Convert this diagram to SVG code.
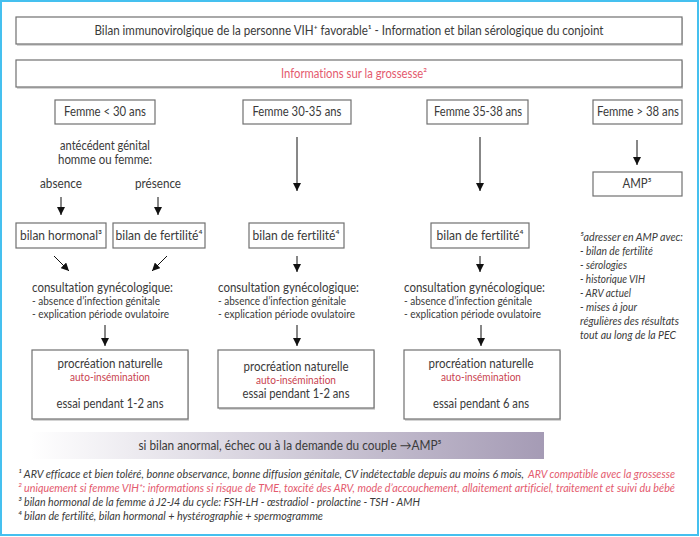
<svg xmlns="http://www.w3.org/2000/svg" width="700" height="537" viewBox="0 0 700 537">
<style>
text{font-family:Lato,"Open Sans","Liberation Sans",sans-serif;fill:#3a3a3a;font-size:12.5px;font-variant-ligatures:none}
.c{text-anchor:middle}
.s{font-size:11px}
.i{font-style:italic;font-size:11px}
.pink{fill:#e45a6e}
.red{fill:#c9434f}
.box{fill:#fff;stroke:#707070;stroke-width:1.2}
.sh{fill:#d4d4d4}
.con{stroke:#111;stroke-width:1;fill:none;marker-end:url(#ah)}
</style>
<defs>
<marker id="ah" markerUnits="userSpaceOnUse" markerWidth="8" markerHeight="8" refX="8" refY="4" orient="auto">
<path d="M0,0 L8,4 L0,8 z" fill="#111"/>
</marker>
<linearGradient id="g" x1="0" x2="1" y1="0" y2="0">
<stop offset="0" stop-color="#ffffff"/>
<stop offset="1" stop-color="#a59bb5"/>
</linearGradient>
</defs>
<rect x="1" y="1" width="697" height="534" fill="#fff" stroke="#45c0ef" stroke-width="2"/>

<g id="title">
<rect class="sh" x="17" y="18" width="666" height="28"/>
<rect class="box" x="16" y="17" width="666" height="27"/>
<text class="c" x="349" y="35" textLength="509" lengthAdjust="spacingAndGlyphs">Bilan immunovirolgique de la personne VIH⁺ favorable¹ - Information et bilan sérologique du conjoint</text>
</g>
<g id="info">
<rect class="sh" x="17" y="61" width="666" height="28"/>
<rect class="box" x="16" y="60" width="666" height="27"/>
<text class="c pink" x="354" y="78" textLength="146" lengthAdjust="spacingAndGlyphs">Informations sur la grossesse²</text>
</g>

<g id="femme30">
<rect class="box" x="55" y="100" width="100" height="24"/>
<text class="c" x="105" y="116" textLength="82" lengthAdjust="spacingAndGlyphs">Femme &lt; 30 ans</text>
</g>
<g id="femme3035">
<rect class="box" x="243" y="100" width="108" height="24"/>
<text class="c" x="297" y="116" textLength="89" lengthAdjust="spacingAndGlyphs">Femme 30-35 ans</text>
</g>
<g id="femme3538">
<rect class="box" x="427" y="100" width="101" height="24"/>
<text class="c" x="478" y="116" textLength="88" lengthAdjust="spacingAndGlyphs">Femme 35-38 ans</text>
</g>
<g id="femme38">
<rect class="box" x="593" y="100" width="89" height="24"/>
<text class="c" x="638" y="116" textLength="82" lengthAdjust="spacingAndGlyphs">Femme &gt; 38 ans</text>
</g>

<g id="antecedent">
<text class="c" x="105" y="150" textLength="90" lengthAdjust="spacingAndGlyphs">antécédent génital</text>
<text class="c" x="105" y="164" textLength="94" lengthAdjust="spacingAndGlyphs">homme ou femme:</text>
</g>
<g id="absence"><text class="c" x="61" y="188" textLength="42" lengthAdjust="spacingAndGlyphs">absence</text></g>
<g id="presence"><text class="c" x="158" y="188" textLength="46" lengthAdjust="spacingAndGlyphs">présence</text></g>

<g id="hormonal">
<rect class="box" x="16" y="223" width="90" height="25"/>
<text class="c" x="61" y="240" textLength="82" lengthAdjust="spacingAndGlyphs">bilan hormonal³</text>
</g>
<g id="fert1">
<rect class="box" x="113" y="223" width="92" height="25"/>
<text class="c" x="159" y="240" textLength="87" lengthAdjust="spacingAndGlyphs">bilan de fertilité⁴</text>
</g>
<g id="fert2">
<rect class="box" x="249" y="223" width="95" height="25"/>
<text class="c" x="296" y="240" textLength="87" lengthAdjust="spacingAndGlyphs">bilan de fertilité⁴</text>
</g>
<g id="fert3">
<rect class="box" x="431" y="223" width="98" height="25"/>
<text class="c" x="480" y="240" textLength="87" lengthAdjust="spacingAndGlyphs">bilan de fertilité⁴</text>
</g>
<g id="amp">
<rect class="box" x="593" y="172" width="89" height="24"/>
<text class="c" x="637" y="188" textLength="29" lengthAdjust="spacingAndGlyphs">AMP⁵</text>
</g>

<g id="consult1">
<text x="32" y="292" textLength="141" lengthAdjust="spacingAndGlyphs">consultation gynécologique:</text>
<text class="s" x="32" y="305" textLength="128" lengthAdjust="spacingAndGlyphs">- absence d’infection génitale</text>
<text class="s" x="32" y="318" textLength="137" lengthAdjust="spacingAndGlyphs">- explication période ovulatoire</text>
</g>
<g id="consult2">
<text x="218" y="292" textLength="141" lengthAdjust="spacingAndGlyphs">consultation gynécologique:</text>
<text class="s" x="218" y="305" textLength="128" lengthAdjust="spacingAndGlyphs">- absence d’infection génitale</text>
<text class="s" x="218" y="318" textLength="137" lengthAdjust="spacingAndGlyphs">- explication période ovulatoire</text>
</g>
<g id="consult3">
<text x="404" y="292" textLength="141" lengthAdjust="spacingAndGlyphs">consultation gynécologique:</text>
<text class="s" x="404" y="305" textLength="128" lengthAdjust="spacingAndGlyphs">- absence d’infection génitale</text>
<text class="s" x="404" y="318" textLength="137" lengthAdjust="spacingAndGlyphs">- explication période ovulatoire</text>
</g>

<g id="proc1">
<rect class="sh" x="33" y="351" width="156" height="70"/>
<rect class="box" x="32" y="350" width="156" height="69"/>
<text class="c" x="110" y="368" textLength="105" lengthAdjust="spacingAndGlyphs">procréation naturelle</text>
<text class="c s red" x="110" y="381" textLength="80" lengthAdjust="spacingAndGlyphs">auto-insémination</text>
<text class="c" x="110" y="408" textLength="107" lengthAdjust="spacingAndGlyphs">essai pendant 1-2 ans</text>
</g>
<g id="proc2">
<rect class="sh" x="219" y="351" width="156" height="59"/>
<rect class="box" x="218" y="350" width="156" height="58"/>
<text class="c" x="296" y="371" textLength="105" lengthAdjust="spacingAndGlyphs">procréation naturelle</text>
<text class="c s red" x="296" y="384" textLength="80" lengthAdjust="spacingAndGlyphs">auto-insémination</text>
<text class="c" x="296" y="398" textLength="107" lengthAdjust="spacingAndGlyphs">essai pendant 1-2 ans</text>
</g>
<g id="proc3">
<rect class="sh" x="405" y="351" width="156" height="70"/>
<rect class="box" x="404" y="350" width="156" height="69"/>
<text class="c" x="481" y="368" textLength="105" lengthAdjust="spacingAndGlyphs">procréation naturelle</text>
<text class="c s red" x="481" y="381" textLength="80" lengthAdjust="spacingAndGlyphs">auto-insémination</text>
<text class="c" x="481" y="408" textLength="96" lengthAdjust="spacingAndGlyphs">essai pendant 6 ans</text>
</g>

<g id="note">
<text class="i" x="580" y="241" textLength="103" lengthAdjust="spacingAndGlyphs">⁵adresser en AMP avec:</text>
<text class="i" x="580" y="255" textLength="73" lengthAdjust="spacingAndGlyphs">- bilan de fertilité</text>
<text class="i" x="580" y="269" textLength="47" lengthAdjust="spacingAndGlyphs">- sérologies</text>
<text class="i" x="580" y="283" textLength="65" lengthAdjust="spacingAndGlyphs">- historique VIH</text>
<text class="i" x="580" y="297" textLength="51" lengthAdjust="spacingAndGlyphs">- ARV actuel</text>
<text class="i" x="580" y="311" textLength="57" lengthAdjust="spacingAndGlyphs">- mises à jour</text>
<text class="i" x="580" y="325" textLength="99" lengthAdjust="spacingAndGlyphs">régulières des résultats</text>
<text class="i" x="580" y="339" textLength="96" lengthAdjust="spacingAndGlyphs">tout au long de la PEC</text>
</g>

<g id="bar">
<rect x="30" y="432" width="514" height="27" fill="url(#g)"/>
<text class="c" x="290" y="450" textLength="303" lengthAdjust="spacingAndGlyphs">si bilan anormal, échec ou à la demande du couple →AMP⁵</text>
</g>

<g id="footnotes">
<text class="i" x="18" y="478" textLength="506" lengthAdjust="spacingAndGlyphs">¹ ARV efficace et bien toléré, bonne observance, bonne diffusion génitale, CV indétectable depuis au moins 6 mois,</text>
<text class="i pink" x="528" y="478" textLength="147" lengthAdjust="spacingAndGlyphs">ARV compatible avec la grossesse</text>
<text class="i pink" x="18" y="492" textLength="657" lengthAdjust="spacingAndGlyphs">² uniquement si femme VIH⁺: informations si risque de TME, toxcité des ARV, mode d’accouchement, allaitement artificiel, traitement et suivi du bébé</text>
<text class="i" x="18" y="506" textLength="402" lengthAdjust="spacingAndGlyphs">³ bilan hormonal de la femme à J2-J4 du cycle: FSH-LH - œstradiol - prolactine - TSH - AMH</text>
<text class="i" x="18" y="520" textLength="305" lengthAdjust="spacingAndGlyphs">⁴ bilan de fertilité, bilan hormonal + hystérographie + spermogramme</text>
</g>

<g id="connectors">
<path class="con" d="M61,197 V215"/>
<path class="con" d="M158,197 V215"/>
<path class="con" d="M297,137 V191"/>
<path class="con" d="M480,137 V191"/>
<path class="con" d="M637,140 V165"/>
<path class="con" d="M54,256 L69,271"/>
<path class="con" d="M167,256 L152,271"/>
<path class="con" d="M297,256 V272"/>
<path class="con" d="M480,256 V272"/>
<path class="con" d="M105,325 V346"/>
<path class="con" d="M297,325 V346"/>
<path class="con" d="M481,325 V346"/>
</g>
</svg>
